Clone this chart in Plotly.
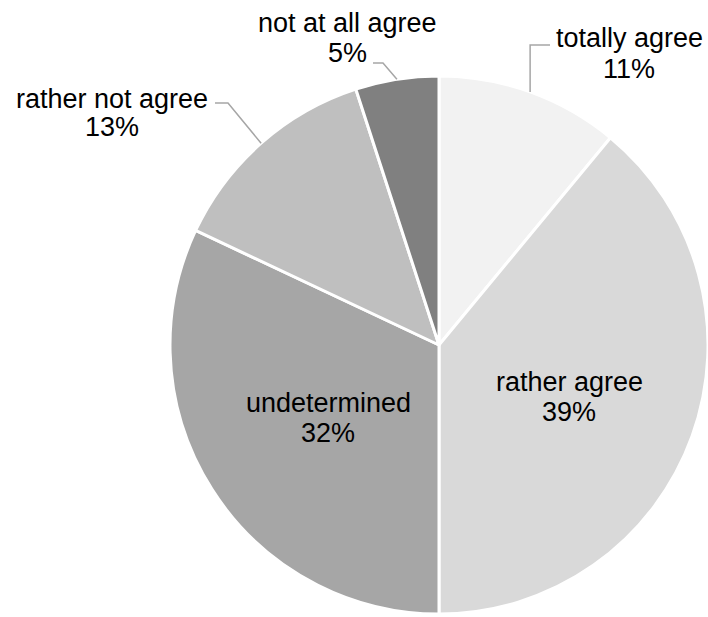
import math
import plotly.graph_objects as go

# Survey answers, clockwise from 12 o'clock
labels = ["totally agree", "rather agree", "undetermined", "rather not agree", "not at all agree"]
shares = [11, 39, 32, 13, 5]
colors = ["#f2f2f2", "#d9d9d9", "#a6a6a6", "#bfbfbf", "#808080"]

W, H = 708, 617
FONT = "Liberation Sans, Arial, sans-serif"
FS = 27

# Pie placement (paper domain)
dom_x = [170 / W, 1.0]
dom_y = [1 - 616 / H, 1 - 74 / H]

# Label placement in pixels: (label centre x, label line mid y, percent line mid y)
label_pos = {
    "totally agree": (629, 38, 69),
    "rather agree": (569, 382, 412),
    "undetermined": (328, 403, 433),
    "rather not agree": (112, 99, 127),
    "not at all agree": (347, 23, 53),
}
# Leader line start (pixel) and elbow for labels outside the pie
leaders = {
    "totally agree": ((550, 45), "vertical"),
    "rather not agree": ((215, 103), (228, 103)),
    "not at all agree": ((373, 63), (383, 63)),
}


def px(x):
    return x / W


def py(y):
    return 1 - y / H


fig = go.Figure(
    go.Pie(
        labels=labels,
        values=shares,
        sort=False,
        direction="clockwise",
        rotation=0,
        marker=dict(colors=colors, line=dict(color="white", width=3)),
        textinfo="none",
        hoverinfo="label+percent",
        domain=dict(x=dom_x, y=dom_y),
        showlegend=False,
    )
)

# geometry of the drawn pie in pixels
cx = (dom_x[0] + dom_x[1]) / 2 * W
cy = H - (dom_y[0] + dom_y[1]) / 2 * H
r = min((dom_x[1] - dom_x[0]) * W, (dom_y[1] - dom_y[0]) * H) / 2

total = sum(shares)
cum = 0
annotations = []
shapes = []
for lab, val in zip(labels, shares):
    mid = (cum + val / 2) / total * 2 * math.pi
    cum += val
    ex = cx + r * math.sin(mid)
    ey = cy - r * math.cos(mid)
    lx, ly1, ly2 = label_pos[lab]
    pct = f"{round(val / total * 100)}%"
    for txt, yy in ((lab, ly1), (pct, ly2)):
        annotations.append(dict(
            x=px(lx), y=py(yy), xref="paper", yref="paper",
            text=txt, showarrow=False, xanchor="center", yanchor="middle",
            font=dict(family=FONT, size=FS, color="#000000"),
        ))
    if lab in leaders:
        start, elbow = leaders[lab]
        if elbow == "vertical":
            elbow = (ex, start[1])
        pts = [start, elbow, (ex, ey)]
        path = "M " + " L ".join(f"{px(a)},{py(b)}" for a, b in pts)
        shapes.append(dict(type="path", path=path, xref="paper", yref="paper",
                           line=dict(color="#a6a6a6", width=1.5)))

fig.update_layout(
    width=W, height=H,
    margin=dict(l=0, r=0, t=0, b=0),
    paper_bgcolor="white", plot_bgcolor="white",
    annotations=annotations,
    shapes=shapes,
)

fig.write_html("out.html")
